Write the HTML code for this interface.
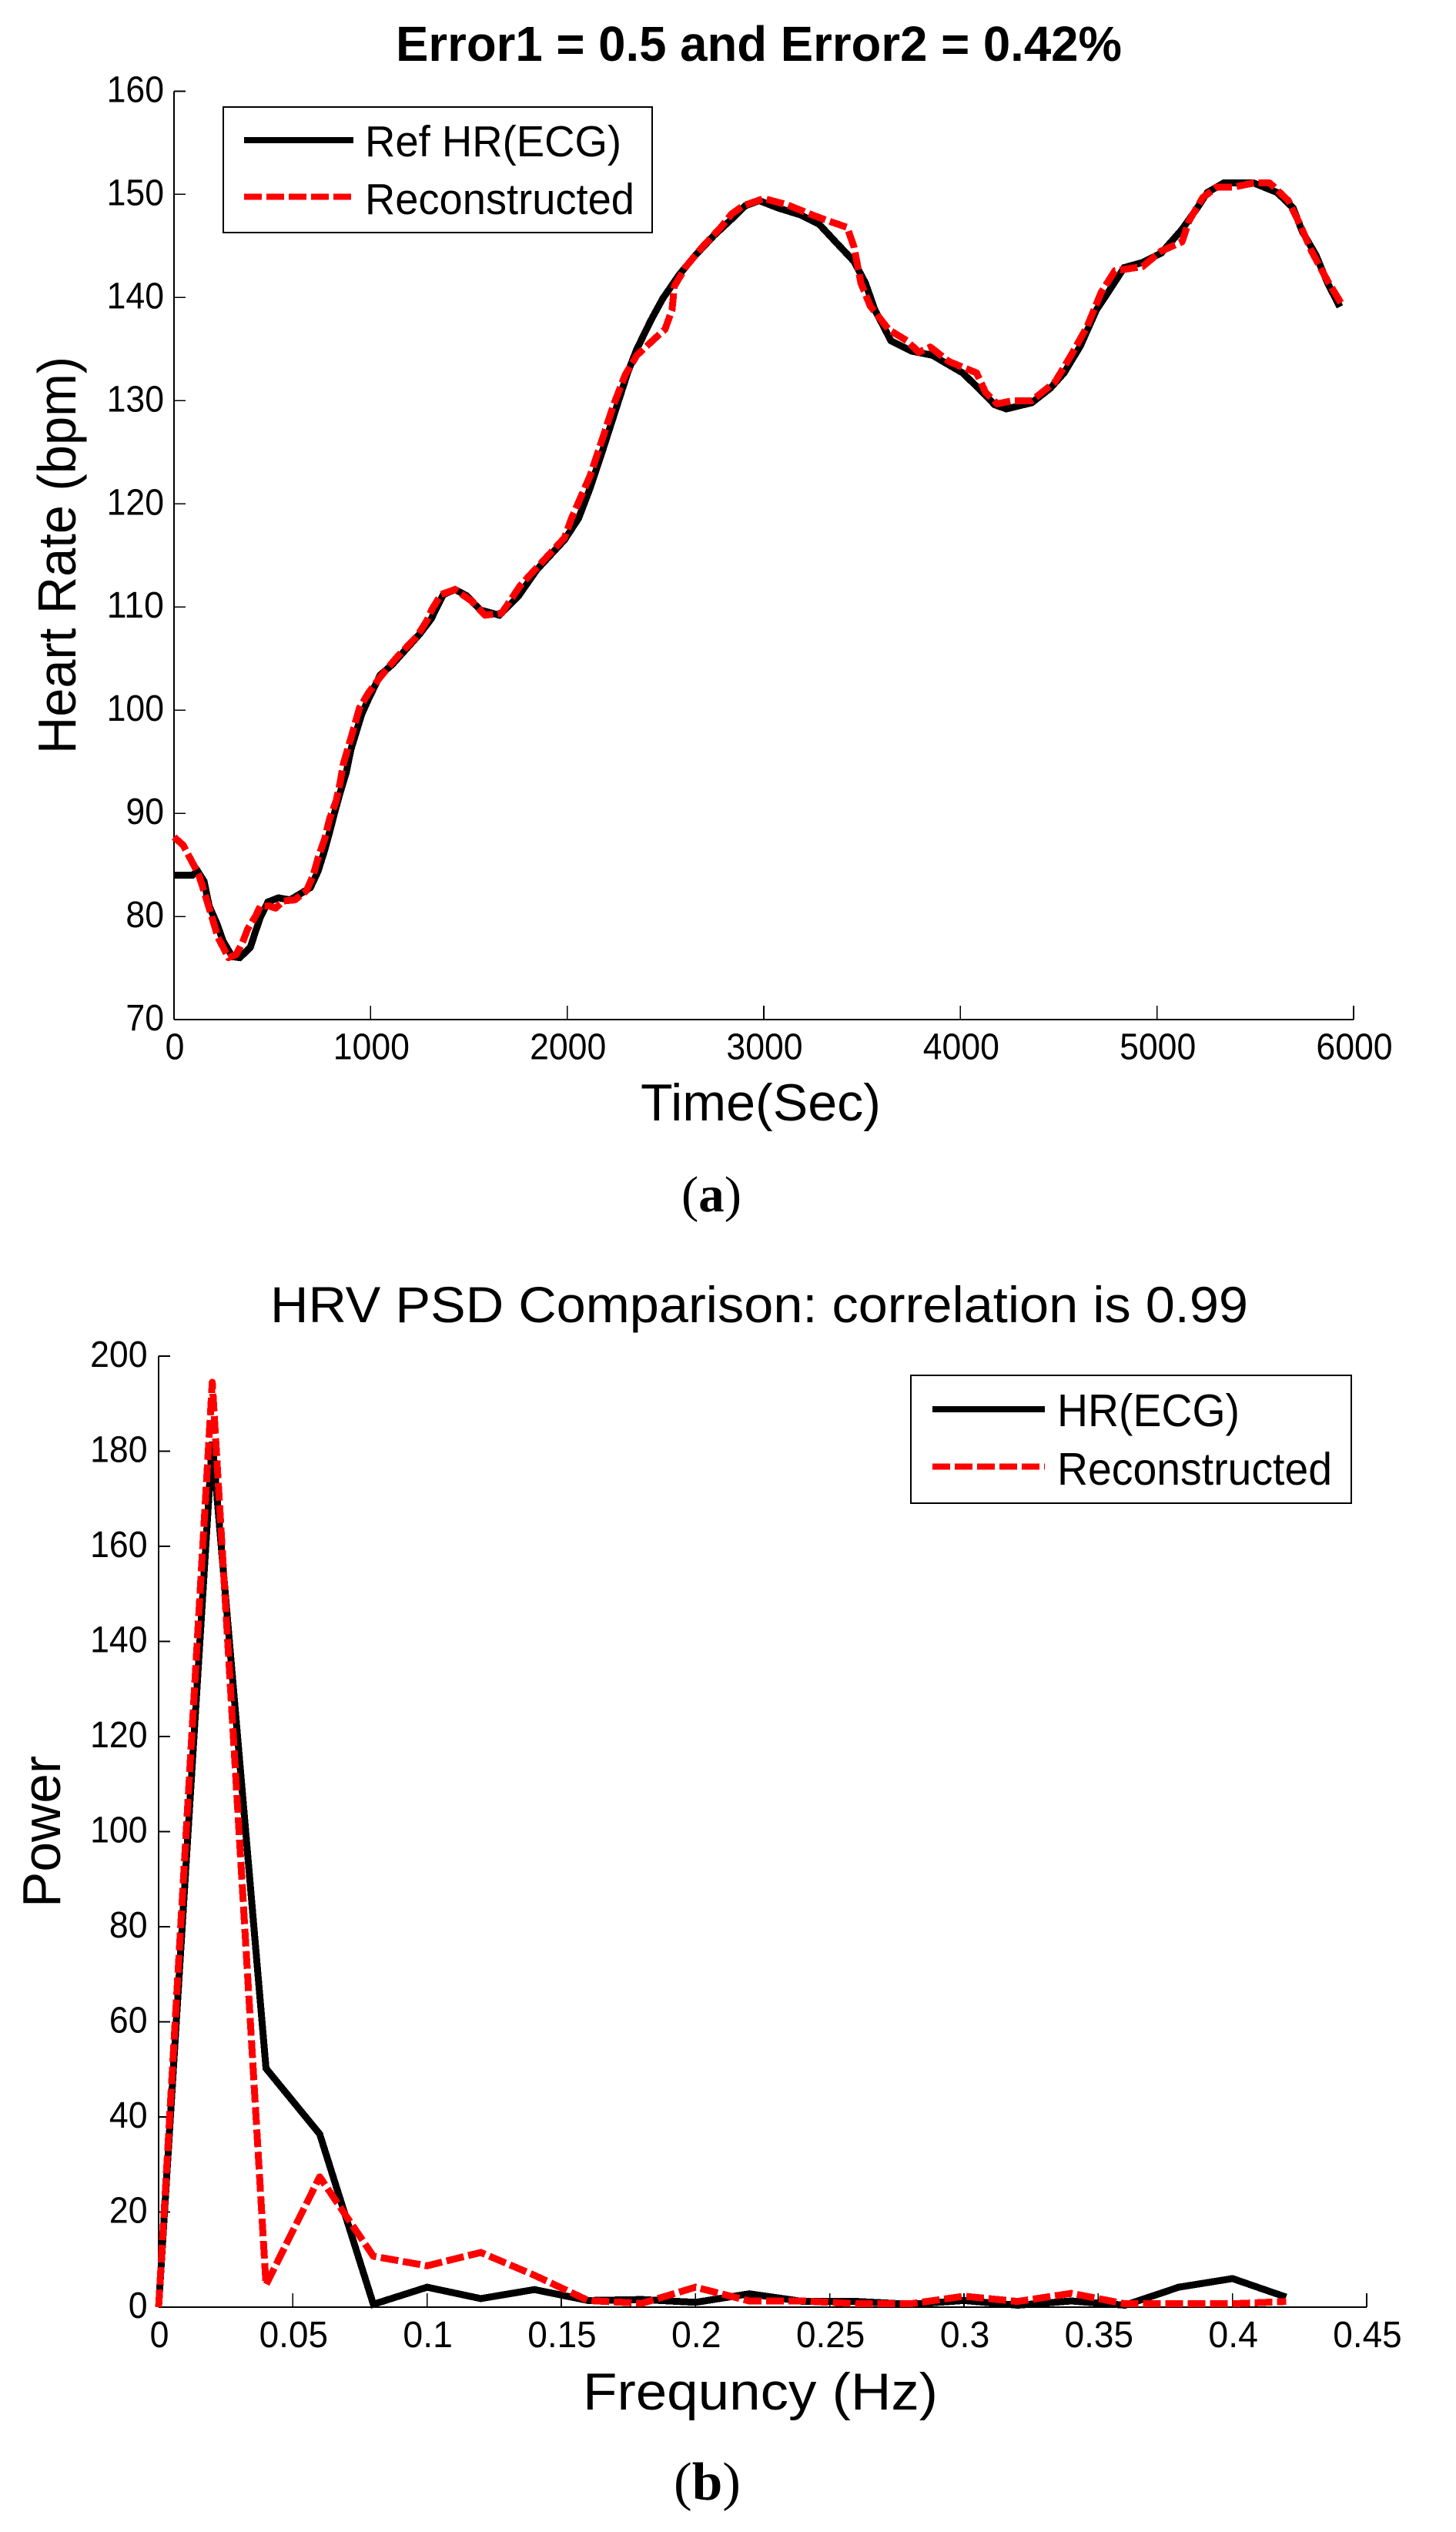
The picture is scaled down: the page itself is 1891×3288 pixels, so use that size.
<!DOCTYPE html>
<html>
<head>
<meta charset="utf-8">
<title>Heart rate reconstruction and HRV PSD comparison</title>
<style>
html,body{margin:0;padding:0;background:#fff;}
svg{display:block;}
text{font-family:"Liberation Sans",Arial,sans-serif;fill:#000;}
.serif{font-family:"Liberation Serif","Times New Roman",serif;}
</style>
</head>
<body>
<svg id="fig" xmlns="http://www.w3.org/2000/svg" width="1891" height="3288" viewBox="0 0 1891 3288">
  <rect x="0" y="0" width="1891" height="3288" fill="#fff"/>
  <g id="panelA">
    <text x="514" y="79" font-size="64" font-weight="bold" textLength="943" lengthAdjust="spacingAndGlyphs">Error1 = 0.5 and Error2 = 0.42%</text>
    <text transform="translate(98,979) rotate(-90)" x="0" y="0" font-size="70" textLength="516" lengthAdjust="spacingAndGlyphs">Heart Rate (bpm)</text>
    <text x="832" y="1455" font-size="68" textLength="312" lengthAdjust="spacingAndGlyphs">Time(Sec)</text>
    <text class="serif" x="885" y="1573" font-size="66" textLength="78" lengthAdjust="spacingAndGlyphs">(<tspan font-weight="bold">a</tspan>)</text>
  </g>
  <g id="panelB">
    <text x="351" y="1717" font-size="66" textLength="1270" lengthAdjust="spacingAndGlyphs">HRV PSD Comparison: correlation is 0.99</text>
    <text transform="translate(78,2477) rotate(-90)" x="0" y="0" font-size="70" textLength="197" lengthAdjust="spacingAndGlyphs">Power</text>
    <text x="757" y="3129" font-size="68" textLength="461" lengthAdjust="spacingAndGlyphs">Frequncy (Hz)</text>
    <text class="serif" x="875" y="3246" font-size="70" textLength="87" lengthAdjust="spacingAndGlyphs">(<tspan font-weight="bold">b</tspan>)</text>
  </g>
</svg>
<script>
// ---- Panel (a) data ----
const hrXTicks = [0,1000,2000,3000,4000,5000,6000];
const hrYTicks = [70,80,90,100,110,120,130,140,150,160];
const refTime = [0,94,120,153,179,218,250,296,335,388,414,439,478,531,590,635,694,733,766,792,819,845,877,900,955,990,1049,1109,1180,1251,1310,1322,1370,1429,1488,1559,1655,1750,1845,1986,2058,2118,2177,2248,2307,2354,2426,2486,2569,2652,2746,2836,2906,2977,3071,3188,3282,3365,3459,3517,3565,3647,3752,3858,4011,4093,4175,4234,4363,4457,4528,4610,4692,4751,4833,4927,5021,5127,5198,5257,5339,5492,5610,5692,5739,5809,5868,5930];
const refHR = [84,84,84.4,83.4,81,79.3,77.6,76.1,76,77,78.5,79.9,81.4,81.8,81.6,82.1,82.8,84.4,86.4,88.2,90.2,92,94,96.2,99.6,101.1,103.4,104.4,105.9,107.4,108.9,109.4,111.2,111.7,111.1,109.7,109.2,111,113.6,116.5,118.6,121.6,125,129.2,132.7,135,137.8,139.9,142.2,144.1,146,147.6,148.9,149.4,148.7,148,147.1,145.4,143.5,141.4,138.8,135.8,134.8,134.4,132.7,131.2,129.6,129.2,129.8,131.2,132.7,135.3,138.8,140.5,142.9,143.4,144.3,146.6,148.5,150.2,151.1,151.1,150.2,148.7,146.4,144.1,141.4,139.1];
const recTime = [0,47,94,125,153,192,223,277,316,349,375,414,439,486,517,556,615,674,708,733,766,792,825,845,860,900,943,990,1049,1132,1238,1287,1310,1358,1429,1512,1582,1667,1762,1986,2022,2118,2177,2236,2295,2354,2450,2497,2533,2545,2604,2687,2781,2836,2895,3000,3118,3247,3318,3424,3459,3494,3541,3635,3729,3788,3847,3941,4082,4128,4187,4269,4363,4481,4563,4645,4716,4786,4927,5021,5127,5162,5233,5304,5386,5492,5574,5668,5727,5786,5868,5938];
const recHR = [87.7,86.9,85.2,84.1,82.4,80,78,76,76.3,77.5,78.8,80,81,81,80.8,81.5,81.6,82.5,84,85.7,87.5,89.5,91.2,93,94.7,97.3,100.2,101.7,103.2,105.1,107.2,108.7,109.7,111.2,111.7,110.6,109.2,109.4,112.1,116.7,118.6,122.8,126.2,129.6,132.5,134.4,136.1,136.9,138.8,141.1,143,144.9,146.8,148.1,148.9,149.6,149,148,147.5,146.8,144.9,141.4,139.2,136.9,135.8,134.7,135.2,133.8,132.7,130.8,129.7,130,130,131.8,134.4,137.2,140.5,142.6,143,144.5,145.4,147.4,149.7,150.7,150.7,151.1,151.1,149.4,147.1,144.5,141.6,139.4];

// ---- Panel (b) data ----
const psdXTicks = [0,0.05,0.1,0.15,0.2,0.25,0.3,0.35,0.4,0.45];
const psdYTicks = [0,20,40,60,80,100,120,140,160,180,200];
const psdFreq = [0,0.02,0.04,0.06,0.08,0.10,0.12,0.14,0.16,0.18,0.20,0.22,0.24,0.26,0.28,0.30,0.32,0.34,0.36,0.38,0.40,0.42];
const psdRef = [0,182,50.2,36.4,0.6,4.2,1.8,3.7,1.4,1.6,1.0,2.8,1.2,1.2,0.6,1.4,0.4,1.3,0.4,4.2,6.0,2.1];
const psdRec = [0,194.5,4.7,27.4,10.7,8.7,11.5,6.7,1.4,0.8,4.2,1.3,1.3,0.7,0.7,2.3,1.2,2.9,0.7,0.7,0.7,1.2];

const NS = 'http://www.w3.org/2000/svg';
function mk(parent, tag, attrs, txt){
  const e = document.createElementNS(NS, tag);
  for (const k in attrs) e.setAttribute(k, attrs[k]);
  if (txt !== undefined) e.textContent = txt;
  parent.appendChild(e);
  return e;
}
function scale(d0,d1,p0,p1){ return v => p0 + (v-d0)/(d1-d0)*(p1-p0); }
function pathOf(xs,ys,sx,sy){
  return xs.map((x,i)=>(i?'L':'M')+sx(x).toFixed(1)+' '+sy(ys[i]).toFixed(1)).join(' ');
}
function labelWidth(s){
  let w = 0;
  for (const c of s) w += (c === '.') ? 15 : 24.8;
  return w;
}

function drawAxes(g, cfg){
  const {sx,sy,xTicks,yTicks,yLabelX,xLabelY,xMin,xMax,yMin,yMax,prefix} = cfg;
  const yAxis = mk(g,'line',{x1:sx(xMin),x2:sx(xMin),y1:sy(yMin),y2:sy(yMax),stroke:'#000','stroke-width':2.2,'shape-rendering':'crispEdges'});
  
  
  const xAxis = mk(g,'line',{x1:sx(xMin),x2:sx(xMax),y1:sy(yMin),y2:sy(yMin),stroke:'#000','stroke-width':2.2,'shape-rendering':'crispEdges'});
  
  
  yTicks.forEach(v=>{
    const t = mk(g,'line',{x1:sx(xMin),x2:sx(xMin)+15,y1:sy(v),y2:sy(v),stroke:'#000','stroke-width':1.6,'shape-rendering':'crispEdges'});
    
    
    const s = String(v);
    const l = mk(g,'text',{x:yLabelX,y:sy(v)+14,'font-size':48,'text-anchor':'end',textLength:labelWidth(s),lengthAdjust:'spacingAndGlyphs'},s);
    
    
  });
  xTicks.forEach(v=>{
    const t = mk(g,'line',{x1:sx(v),x2:sx(v),y1:sy(yMin),y2:sy(yMin)-18,stroke:'#000','stroke-width':1.6,'shape-rendering':'crispEdges'});
    
    
    const s = String(v);
    const l = mk(g,'text',{x:sx(v)+1,y:xLabelY,'font-size':48,'text-anchor':'middle',textLength:labelWidth(s),lengthAdjust:'spacingAndGlyphs'},s);
    
    
  });
}

function drawSeries(g, xs, ys, sx, sy, color, dashed, name){
  const p = mk(g,'path',{d:pathOf(xs,ys,sx,sy),fill:'none',stroke:color,'stroke-width':9,
    'stroke-linejoin':dashed?'round':'miter','stroke-miterlimit':4,'shape-rendering':'crispEdges'});
  if (dashed) p.setAttribute('stroke-dasharray','23 6');
  
  
}

function drawLegend(g, box, rows, prefix){
  const r = mk(g,'rect',{x:box.x,y:box.y,width:box.w,height:box.h,fill:'#fff',stroke:'#000','stroke-width':2,'shape-rendering':'crispEdges'});
  
  
  rows.forEach(row=>{
    const s = mk(g,'line',{x1:box.lx0,x2:box.lx1,y1:row.ly,y2:row.ly,stroke:row.color,'stroke-width':8,'shape-rendering':'crispEdges'});
    if (row.dashed) s.setAttribute('stroke-dasharray','23 6');
    
    
    const t = mk(g,'text',{x:box.tx,y:row.ty,'font-size':box.fs,textLength:row.tw,lengthAdjust:'spacingAndGlyphs'},row.label);
    
    
  });
}

// Panel (a)
const gA = document.getElementById('panelA');
const axA = scale(0,6000,226,1758);
const ayA = scale(70,160,1324,118.5);
drawAxes(gA,{sx:axA,sy:ayA,xTicks:hrXTicks,yTicks:hrYTicks,yLabelX:213,xLabelY:1375.5,xMin:0,xMax:6000,yMin:70,yMax:160,prefix:'panel-a'});
drawSeries(gA,refTime,refHR,axA,ayA,'#000',false,'ref-hr-ecg-line');
drawSeries(gA,recTime,recHR,axA,ayA,'#f00',true,'reconstructed-hr-line');
drawLegend(gA,{x:290,y:139,w:557,h:163,lx0:317,lx1:459,tx:474,fs:57},[
  {label:'Ref HR(ECG)',color:'#000',dashed:false,ly:182,ty:203,tw:333},
  {label:'Reconstructed',color:'#f00',dashed:true,ly:255.5,ty:278,tw:350}
],'panel-a');

// Panel (b)
const gB = document.getElementById('panelB');
const axB = scale(0,0.45,206,1775);
const ayB = scale(0,200,2996,1761);
drawAxes(gB,{sx:axB,sy:ayB,xTicks:psdXTicks,yTicks:psdYTicks,yLabelX:191.5,xLabelY:3048,xMin:0,xMax:0.45,yMin:0,yMax:200,prefix:'panel-b'});
drawSeries(gB,psdFreq,psdRef,axB,ayB,'#000',false,'psd-hr-ecg-line');
drawSeries(gB,psdFreq,psdRec,axB,ayB,'#f00',true,'psd-reconstructed-line');
drawLegend(gB,{x:1183,y:1786,w:572,h:166,lx0:1211,lx1:1357,tx:1373,fs:59},[
  {label:'HR(ECG)',color:'#000',dashed:false,ly:1830,ty:1852,tw:237},
  {label:'Reconstructed',color:'#f00',dashed:true,ly:1904.5,ty:1928,tw:357}
],'panel-b');
</script>
</body>
</html>
